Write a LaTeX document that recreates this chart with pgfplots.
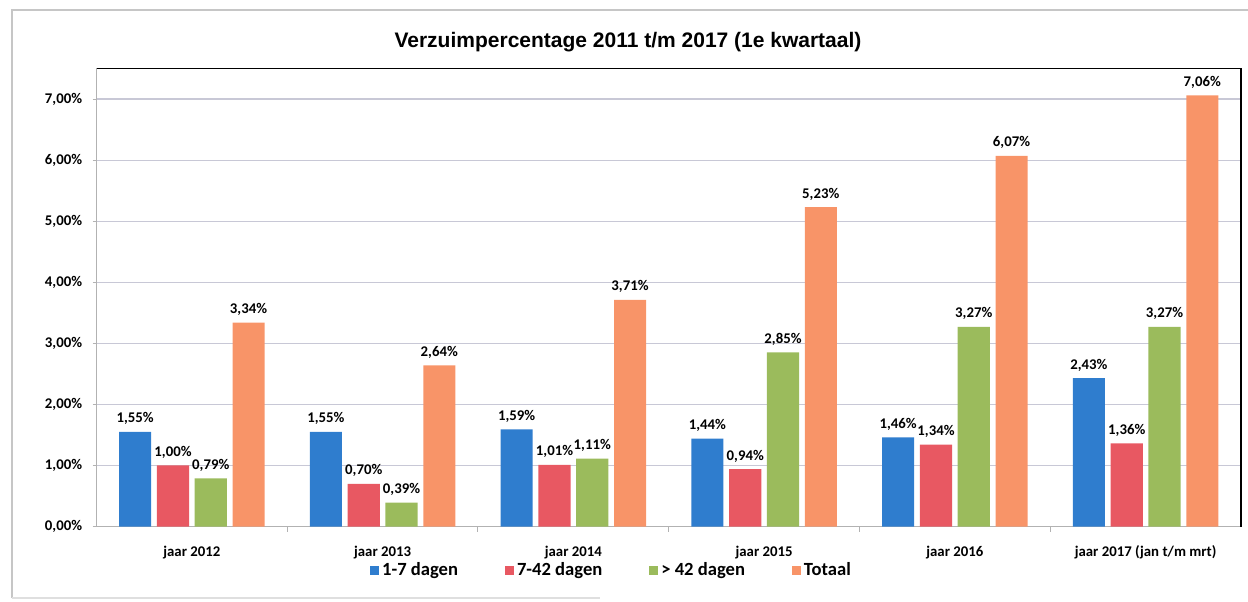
\documentclass[border=0pt]{standalone}
\usepackage{fontspec}
\setmainfont{Carlito}
\newfontfamily\titlefont{Liberation Sans}
\usepackage{pgfplots}
\pgfplotsset{compat=1.18}
\definecolor{cBlue}{RGB}{47,125,206}
\definecolor{cRed}{RGB}{232,88,98}
\definecolor{cGreen}{RGB}{155,187,92}
\definecolor{cOrange}{RGB}{248,148,104}
\definecolor{gridc}{RGB}{200,200,214}
\begin{document}
\begin{tikzpicture}
\path[use as bounding box] (0pt,0pt) rectangle (624pt,300.5pt);
\draw[gray!45, line width=0.6pt] (6pt,1.5pt) -- (6pt,295.5pt) -- (630pt,295.5pt);
\draw[gray!25, line width=0.6pt] (6pt,1.5pt) -- (300pt,1.5pt);
\node[font=\titlefont\bfseries\fontsize{10.5}{12}\selectfont] at (314pt,279.5pt) {Verzuimpercentage 2011 t/m 2017 (1e kwartaal)};
\begin{axis}[
  at={(48.25pt,37.25pt)}, anchor=south west,
  scale only axis, width=572.25pt, height=229pt,
  ymin=0, ymax=7.5, xmin=-0.5, xmax=5.5,
  ybar, bar width=0.168,
  axis line style={gray!60, line width=0.6pt},
  ymajorgrids, grid style={gridc, line width=0.6pt},
  tick align=outside, xtick pos=bottom, ytick pos=left,
  ytick={0,1,2,3,4,5,6,7},
  yticklabels={{0,00\%},{1,00\%},{2,00\%},{3,00\%},{4,00\%},{5,00\%},{6,00\%},{7,00\%}},
  major tick length=2pt,
  tick style={gray!60, line width=0.5pt},
  xtick={0,1,2,3,4,5},
  xticklabels={jaar 2012,jaar 2013,jaar 2014,jaar 2015,jaar 2016,jaar 2017 (jan t/m mrt)},
  major x tick style={draw=none},
  minor xtick={0.5,1.5,2.5,3.5,4.5},
  minor tick length=2.5pt,
  yticklabel style={font=\bfseries\fontsize{7.4}{9}\selectfont, inner sep=0pt, anchor=east, xshift=-5pt},
  xticklabel style={font=\bfseries\fontsize{7.4}{9}\selectfont, inner sep=0pt, anchor=base, yshift=-13pt},
  nodes near coords={\pgfmathprintnumber[fixed,fixed zerofill,precision=2,use comma,assume math mode=true]{\pgfplotspointmeta}\%},
  every node near coord/.append style={font=\bfseries\fontsize{7.4}{9}\selectfont, anchor=base, inner sep=0pt, yshift=4.5pt, text=black},
  legend image code/.code={\fill[#1, draw=none] (0pt,-2.25pt) rectangle (4.5pt,2.25pt);},
  legend style={at={(0.4504,-0.097)}, anchor=center, draw=none, fill=none,
    legend columns=4, font=\bfseries\fontsize{9.3}{11}\selectfont,
    /tikz/every even column/.append style={column sep=22pt},
    nodes={inner sep=1.5pt}},
  clip=false,
]
\addplot[fill=cBlue, draw=none, bar shift=-0.297] coordinates {(0,1.55) (1,1.55) (2,1.59) (3,1.44) (4,1.46) (5,2.43)};
\addlegendentry{1-7 dagen}
\addplot[fill=cRed, draw=none, bar shift=-0.099] coordinates {(0,1.00) (1,0.70) (2,1.01) (3,0.94) (4,1.34) (5,1.36)};
\addlegendentry{7-42 dagen}
\addplot[fill=cGreen, draw=none, bar shift=0.099] coordinates {(0,0.79) (1,0.39) (2,1.11) (3,2.85) (4,3.27) (5,3.27)};
\addlegendentry{> 42 dagen}
\addplot[fill=cOrange, draw=none, bar shift=0.297] coordinates {(0,3.34) (1,2.64) (2,3.71) (3,5.23) (4,6.07) (5,7.06)};
\addlegendentry{Totaal}
\draw[black, line width=0.9pt] (rel axis cs:0,1) -- (rel axis cs:1,1) -- (rel axis cs:1,0);
\end{axis}
\end{tikzpicture}
\end{document}
